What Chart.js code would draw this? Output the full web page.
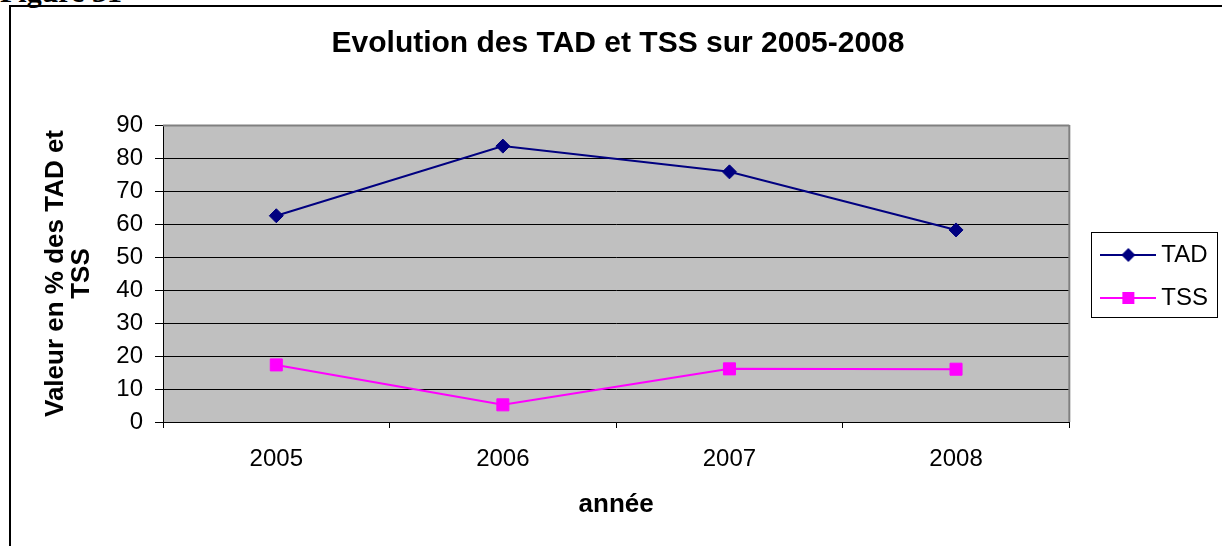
<!DOCTYPE html>
<html>
<head>
<meta charset="utf-8">
<script src="https://cdn.jsdelivr.net/npm/chart.js@4"></script>
<style>
  html, body { margin: 0; padding: 0; background: #fff; overflow: hidden; }
  #frame { position: absolute; left: 9px; top: 5px; width: 1300px; height: 600px;
           border-top: 2px solid #000; border-left: 2px solid #000; }
  #fig { position: absolute; left: 0; top: -23px; font: bold 30px/30px "Liberation Serif", serif; color: #000; white-space: nowrap; }
  #c { position: absolute; left: 0; top: 0; }
</style>
</head>
<body>
<div id="frame"></div>
<div id="fig">Figure 31</div>
<canvas id="c" width="1222" height="546"></canvas>
<script>
// données
const years = ['2005', '2006', '2007', '2008'];
const tad = [62.5, 83.6, 75.8, 58.2];
const tss = [17.3, 5.2, 16.1, 16.0];
const yTicks = [0, 10, 20, 30, 40, 50, 60, 70, 80, 90];

Chart.defaults.font.family = '"Liberation Sans", Arial, sans-serif';
Chart.defaults.color = '#000';

// petit dessin ligne + marqueur pour la légende
function legendMark(color, shape) {
  const c = document.createElement('canvas');
  c.width = 56; c.height = 20;
  const g = c.getContext('2d');
  g.strokeStyle = color; g.lineWidth = 2;
  g.beginPath(); g.moveTo(0, 10); g.lineTo(56, 10); g.stroke();
  g.fillStyle = color;
  g.beginPath();
  if (shape === 'diamond') {
    g.moveTo(28, 3); g.lineTo(35, 10); g.lineTo(28, 17); g.lineTo(21, 10);
  } else {
    g.rect(22, 4, 12, 12);
  }
  g.fill();
  return c;
}

const plotBg = {
  id: 'plotBg',
  beforeDraw(chart) {
    const {ctx, chartArea: a} = chart;
    ctx.save();
    ctx.fillStyle = '#c0c0c0';
    ctx.fillRect(a.left, a.top, a.right - a.left, a.bottom - a.top);
    ctx.restore();
  },
  beforeDatasetsDraw(chart) {
    const {ctx, chartArea: a} = chart;
    ctx.save();
    ctx.strokeStyle = '#808080';
    ctx.lineWidth = 2;
    ctx.beginPath();
    ctx.moveTo(a.left, a.top + 0.5);
    ctx.lineTo(a.right, a.top + 0.5);
    ctx.moveTo(a.right, a.top);
    ctx.lineTo(a.right, a.bottom);
    ctx.stroke();
    ctx.restore();
  },
  afterDraw(chart) {
    const hb = chart.legend && chart.legend.legendHitBoxes;
    if (!hb || !hb.length) return;
    const last = hb[hb.length - 1];
    const x0 = Math.round(hb[0].left - 16) + 0.5;
    const y0 = Math.round(hb[0].top - 11) + 0.5;
    const x1 = Math.round(Math.max(...hb.map(h => h.left + h.width)) + 9) + 0.5;
    const y1 = Math.round(last.top + last.height + 7) + 0.5;
    const ctx = chart.ctx;
    ctx.save();
    ctx.strokeStyle = '#000';
    ctx.lineWidth = 1;
    ctx.strokeRect(x0, y0, x1 - x0, y1 - y0);
    ctx.restore();
  }
};

new Chart(document.getElementById('c'), {
  type: 'line',
  data: {
    labels: years,
    datasets: [
      {
        label: 'TAD', data: tad, yAxisID: 'y',
        borderColor: '#000080', backgroundColor: '#000080', borderWidth: 2,
        pointStyle: 'rectRot', pointRadius: 7, pointBorderWidth: 1,
        pointBackgroundColor: '#000080', pointBorderColor: '#000080', tension: 0
      },
      {
        label: 'TSS', data: tss, yAxisID: 'y',
        borderColor: '#ff00ff', backgroundColor: '#ff00ff', borderWidth: 2,
        pointStyle: 'rect', pointRadius: 8.5, pointBorderWidth: 1,
        pointBackgroundColor: '#ff00ff', pointBorderColor: '#ff00ff', tension: 0
      }
    ]
  },
  options: {
    responsive: false,
    animation: false,
    devicePixelRatio: 1,
    layout: { padding: { left: 18, right: 4, top: 7, bottom: 0 } },
    plugins: {
      tooltip: { enabled: false },
      title: {
        display: true,
        text: 'Evolution des TAD et TSS sur 2005-2008',
        font: { size: 30, weight: 'bold' },
        color: '#000',
        padding: { top: 19, bottom: 63 }
      },
      legend: {
        position: 'right',
        labels: {
          usePointStyle: true,
          pointStyleWidth: 42,
          padding: 19,
          font: { size: 24 },
          color: '#000',
          generateLabels(chart) {
            return chart.data.datasets.map((ds, i) => ({
              text: ds.label,
              pointStyle: legendMark(ds.borderColor, i === 0 ? 'diamond' : 'square'),
              fillStyle: ds.borderColor,
              strokeStyle: ds.borderColor,
              lineWidth: 0,
              hidden: false,
              datasetIndex: i
            }));
          }
        }
      }
    },
    scales: {
      x: {
        type: 'category',
        offset: true,
        grid: { offset: true, drawOnChartArea: false, drawTicks: true, tickLength: 6, color: '#000' },
        border: { color: '#000', width: 1 },
        ticks: { font: { size: 24 }, padding: 17, color: '#000', maxRotation: 0 },
        title: { display: true, text: 'année', font: { size: 26, weight: 'bold', lineHeight: 1 }, padding: { top: 0, bottom: 28 }, color: '#000' },
        afterFit(s) { s.height = 124; }
      },
      y: {
        type: 'linear',
        min: 0,
        max: 90,
        afterBuildTicks(s) { s.ticks = yTicks.map(v => ({ value: v })); },
        grid: { color: '#000', lineWidth: 1, tickLength: 8, tickColor: '#000' },
        border: { color: '#000', width: 1 },
        ticks: { font: { size: 24 }, padding: 12, color: '#000' },
        title: {
          display: true,
          text: ['Valeur en % des TAD et', 'TSS'],
          font: { size: 26, weight: 'bold', lineHeight: 1 },
          padding: { top: 25, bottom: 0 },
          color: '#000'
        },
        afterFit(s) { s.width = 145; }
      },
      // axe vide: juste l'espace entre la zone de tracé et la légende
      gap: {
        type: 'linear',
        position: 'right',
        display: true,
        grid: { display: false, drawTicks: false },
        ticks: { display: false },
        border: { display: false },
        afterFit(s) { s.width = 19; }
      }
    }
  },
  plugins: [plotBg]
});
</script>
</body>
</html>
